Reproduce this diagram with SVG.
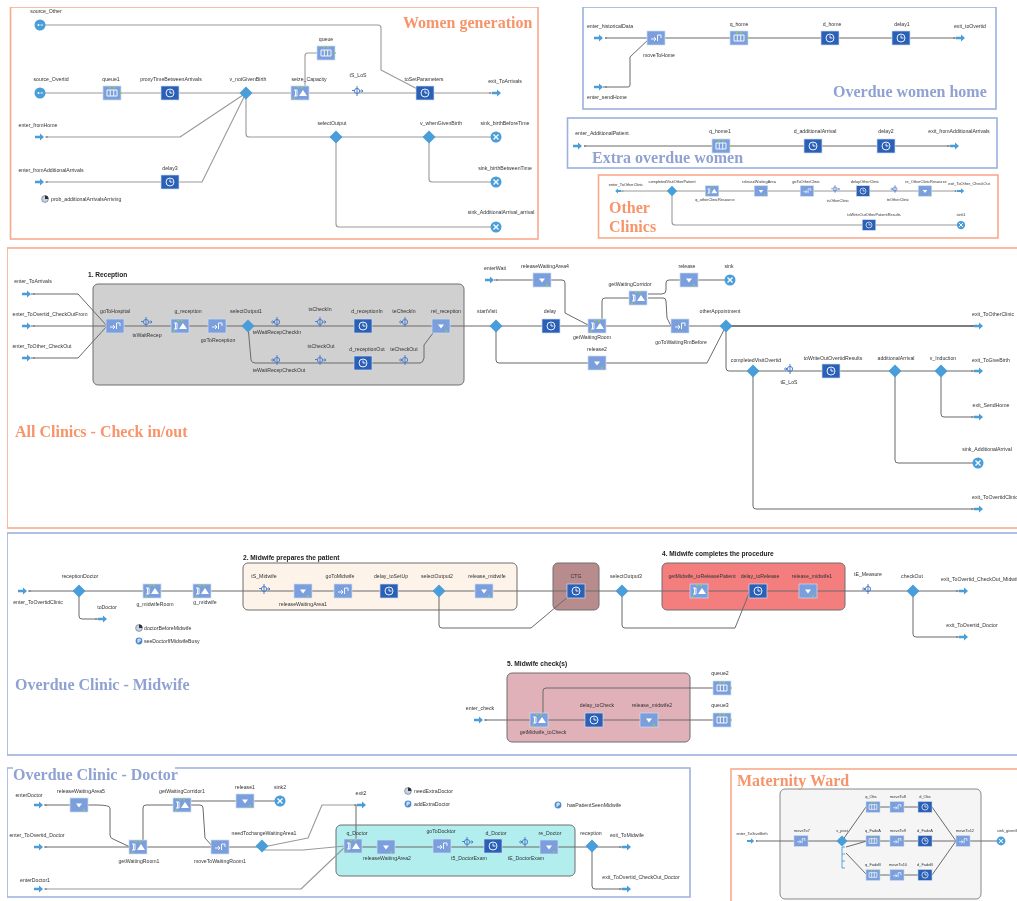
<svg xmlns="http://www.w3.org/2000/svg" width="1017" height="901" viewBox="0 0 1017 901">
<style>
text{font-family:"Liberation Sans",Arial,sans-serif;font-size:5.2px;fill:#333;text-anchor:middle}
.st text{font-size:3.9px}
.s{text-anchor:start}
.h{font-weight:bold;font-size:6.6px;fill:#222;text-anchor:start}
.ti{font-family:"Liberation Serif","Times New Roman",serif;font-weight:bold;font-size:16px;text-anchor:start}
.or{fill:#f7946a}.bl{fill:#8fa2d2}
.fo{fill:none;stroke:#f9a98c;stroke-width:1.6}
.fb{fill:none;stroke:#9db0de;stroke-width:1.6}
.box{stroke:#6f6f6f;stroke-width:1}
.c{fill:none;stroke:#6a6a6a;stroke-width:1;stroke-linejoin:round}
.cl{fill:none;stroke:#9a9a9a;stroke-width:1.1;stroke-linejoin:round}
.lb{fill:#7a9fdc;stroke:#cfdcf4;stroke-width:.7}
.db{fill:#2b60b6;stroke:#cfdcf4;stroke-width:.7}
.w{fill:#fff}
.wl{fill:none;stroke:#fff;stroke-width:.9}
.g{fill:#8fd13f}
.p{fill:#4a9dd8}
.tm{fill:none;stroke:#4f7fcb;stroke-width:1}
</style>
<defs>
<filter id="soft" x="0" y="0" width="100%" height="100%"><feGaussianBlur stdDeviation="0.35"/></filter>
<g id="s-q"><rect class="lb" x="-9" y="-7" width="18" height="14"/><path class="wl" d="M-5-3H5V3H-5ZM-1.700-3V3M1.700-3V3"/><circle class="g" cx="-2" cy="-5.500" r="1"/><circle class="g" cx="2" cy="-5.500" r="1"/><circle class="g" cx="9" cy="0" r="1"/></g>
<g id="s-d"><rect class="db" x="-9" y="-7" width="18" height="14"/><circle class="wl" r="4"/><path class="wl" d="M0-2.500V0H2.500"/></g>
<g id="s-z"><rect class="lb" x="-9" y="-7" width="18" height="14"/><path class="wl" d="M-6-3H-3V3H-6M-4.500-3V3"/><path class="w" d="M-1 3L3-3L7 3Z"/><circle class="g" cx="-2" cy="-5.500" r="1"/><circle class="g" cx="2" cy="-5.500" r="1"/><circle class="g" cx="-6" cy="5.500" r="1"/></g>
<g id="s-r"><rect class="lb" x="-9" y="-7" width="18" height="14"/><path class="w" d="M-3-1.500H3L0 2.500Z"/><circle class="g" cx="5" cy="5" r="1"/></g>
<g id="s-m"><rect class="lb" x="-9" y="-7" width="18" height="14"/><path class="wl" d="M-5 1H0M-2-1L0 1L-2 3M1.500-3V3M1.500-3H5V0"/></g>
<g id="s-t"><circle class="tm" r="2.600"/><path class="tm" d="M0-5V5M-5-0.500H-3M3 0H6M4.500-1.500L6 0L4.500 1.500"/></g>
<g id="s-u"><circle class="tm" r="2.600"/><path class="tm" d="M0-5V5M-6 0H-3M-4.500-1.500L-3 0L-4.500 1.500"/></g>
<polygon id="s-v" class="p" points="0,-6.500 6.500,0 0,6.500 -6.500,0"/>
<g id="s-e"><path class="p" d="M-5-1.300H0V-3.500L4 0L0 3.500V1.300H-5Z"/><circle cx="7" r=".8" fill="#666"/></g>
<g id="s-x"><path class="p" d="M-5-1.300H0V-3.500L4 0L0 3.500V1.300H-5Z"/><circle cx="-7" r=".8" fill="#666"/></g>
<g id="s-k"><circle class="p" r="5.500"/><path class="wl" style="stroke-width:1.300" d="M-2.500-2.500L2.500 2.500M2.500-2.500L-2.500 2.500"/></g>
<g id="s-o"><circle class="p" r="5.500"/><circle class="w" cx="-1.500" r="1"/><path class="wl" d="M.5 0H3"/></g>
<g id="s-a"><circle r="3.400" fill="#c7d3e4" stroke="#5d6b80" stroke-width=".6"/><path d="M0 0V-3.400A3.400 3.400 0 0 1 3.400 0Z" fill="#333"/></g>
<g id="s-b"><circle r="3.400" fill="#4a8bcf"/><path class="wl" d="M-1-1.800H1.200V0H-1M-1-1.800V2"/></g>
</defs>
<rect width="1017" height="901" fill="#fff"/>
<g filter="url(#soft)">
<g id="frames">
<rect class="fo" x="10.500" y="7" width="527.500" height="232"/>
<rect class="fb" x="583" y="7" width="413" height="102"/>
<rect class="fb" x="567.500" y="118" width="429.500" height="50"/>
<rect class="fo" x="598.500" y="175" width="399.500" height="63"/>
<rect class="fo" x="7" y="248" width="1030" height="280"/>
<rect class="fb" x="7" y="533" width="1030" height="222"/>
<path class="fb" d="M175 768H690V897H7V768H13"/>
<rect class="fo" x="731" y="769" width="300" height="150"/>
<rect class="box" x="93" y="284" width="371" height="101" rx="5" fill="#d0d0d0"/>
<rect class="box" x="243" y="563" width="274" height="47" rx="5" fill="#fdf3e9"/>
<rect class="box" x="553" y="563" width="46" height="47" rx="5" fill="#b88c8c"/>
<rect class="box" x="662" y="563" width="183" height="47" rx="5" fill="#f47d7e"/>
<rect class="box" x="507" y="673" width="183" height="69" rx="5" fill="#e0b1b9"/>
<rect class="box" x="336" y="825" width="239" height="51" rx="5" fill="#b2eeee"/>
<rect x="780" y="789" width="201" height="110" rx="5" fill="#f5f5f5" stroke="#888"/>
</g>
<g id="headings">
<text class="ti or" x="403" y="28">Women generation</text>
<text class="ti bl" x="833" y="97">Overdue women home</text>
<text class="ti bl" x="592" y="163">Extra overdue women</text>
<text class="ti or" x="609" y="213">Other</text>
<text class="ti or" x="609" y="232">Clinics</text>
<text class="ti or" x="15" y="437">All  Clinics  - Check in/out</text>
<text class="ti bl" x="15" y="690">Overdue Clinic  - Midwife</text>
<text class="ti bl" x="13" y="780">Overdue Clinic  - Doctor</text>
<text class="ti or" x="737" y="786">Maternity Ward</text>
<text class="h" x="88" y="277">1. Reception</text>
<text class="h" x="243" y="560">2. Midwife prepares the patient</text>
<text class="h" x="662" y="556">4. Midwife completes the procedure</text>
<text class="h" x="507" y="666">5. Midwife check(s)</text>
</g>
<g id="connectors">
<path class="cl" d="M45 25H378Q381 25 381 28V70L425 93"/>
<path class="cl" d="M45 93H497"/>
<path class="cl" d="M45 137H180L246 93"/>
<path class="cl" d="M45 182H170M170 182H202L246 93"/>
<path class="cl" d="M246 93V134Q246 137 249 137H496"/>
<path class="cl" d="M429 137V179Q429 182 432 182H496"/>
<path class="cl" d="M336 137V224Q336 227 339 227H496"/>
<path class="cl" d="M305 93V56Q305 53 308 53H318"/>
<path class="c" d="M605 38H961"/>
<path class="c" d="M603 87H628Q630 87 630 85V57L650 38"/>
<path class="c" d="M584 146H955"/>
<path class="cl" d="M622 191H961"/>
<path class="cl" d="M672 191V222Q672 225 675 225H961"/>
<path class="c" d="M31 294H78L107 326"/>
<path class="c" d="M31 358H78L107 326"/>
<path class="c" d="M31 326H979"/>
<path class="c" d="M248 326L251 360Q252 363 255 363H420Q423 363 424 358V345L433 333"/>
<path class="c" d="M494 280H562Q565 280 565 283V313L590 326"/>
<path class="c" d="M602 320V301Q602 298 605 298H638"/>
<path class="c" d="M648 294H662Q666 294 666 290V283Q666 280 669 280H730"/>
<path class="c" d="M648 298H663Q666 298 666 301L667 318L671 326"/>
<path class="c" d="M496 326V360Q496 363 499 363H707L726 326"/>
<path class="c" style="stroke-width:1.500" d="M726 326H979"/>
<path class="c" d="M726 326V368Q726 371 729 371H979"/>
<path class="c" d="M753 371V506Q753 509 756 509H979"/>
<path class="c" d="M895 371V460Q895 463 898 463H978"/>
<path class="c" d="M941 371V414Q941 417 944 417H979"/>
<path class="c" d="M28 591H264M264 591H964"/>
<path class="c" d="M79 591V616Q79 619 82 619H100"/>
<path class="c" d="M439 591V625Q439 628 442 628H531L569 596"/>
<path class="c" d="M622 591V625Q622 628 625 628H735L750 591"/>
<path class="c" d="M913 591V634Q913 637 916 637H960"/>
<path class="c" d="M484 720H722"/>
<path class="c" d="M543 720V691Q543 688 546 688H722"/>
<path class="c" d="M44 805H96Q110 805 110 808V835Q110 838 113 839L130 847"/>
<path class="c" d="M143 840V808Q143 805 146 805H182"/>
<path class="c" d="M190 801H280"/>
<path class="c" d="M190 805H200Q203 805 203 808L205 838L213 847"/>
<path class="c" d="M44 847H262M353 847H627"/>
<path class="cl" d="M268 846L308 838L322 805H362"/>
<path class="cl" d="M263 850H303L345 846"/>
<path class="c" d="M356 840V805"/>
<path class="cl" d="M44 889H301L345 847"/>
<path class="c" d="M592 846V886Q592 889 595 889H627"/>
<path class="c" d="M756 841H1001"/>
<path class="c" d="M842 841L866 807H932L956 841"/>
<path class="c" d="M846 847L867 841"/>
<path class="c" d="M846 853L867 875H932L956 841"/>
<path d="M842 847V868M842 847H845M842 854H845M842 861H845M842 868H845" fill="none" stroke="#4a9dd8" stroke-width=".9"/>
</g>

<g id="n-source_Other"><use href="#s-o" transform="translate(40,25)"/><text x="46" y="13">source_Other</text></g>
<g id="n-source_Overtid"><use href="#s-o" transform="translate(40,93)"/><text x="51" y="81">source_Overtid</text></g>
<g id="n-queue1"><use href="#s-q" transform="translate(112,93)"/><text x="111" y="81">queue1</text></g>
<g id="n-proxyTime"><use href="#s-d" transform="translate(170,93)"/><text x="171" y="81">proxyTimeBetweenArrivals</text></g>
<g id="n-v_notGivenBirth"><use href="#s-v" transform="translate(246,93)"/><text x="248" y="81">v_notGivenBirth</text></g>
<g id="n-seize_Capacity"><use href="#s-z" transform="translate(300,93)"/><text x="309" y="81">seize_Capacity</text></g>
<g id="n-queue"><use href="#s-q" transform="translate(326,53)"/><text x="326" y="41">queue</text></g>
<g id="n-tS_LoS"><use href="#s-t" transform="translate(357,91)"/><text x="358" y="77">tS_LoS</text></g>
<g id="n-toSetParameters"><use href="#s-d" transform="translate(425,93)"/><text x="424" y="81">toSetParameters</text></g>
<g id="n-exit_ToArrivals"><use href="#s-x" transform="translate(497,93)"/><text x="505" y="83">exit_ToArrivals</text></g>
<g id="n-enter_fromHome"><use href="#s-e" transform="translate(40,137)"/><text x="38" y="127">enter_fromHome</text></g>
<g id="n-enter_fromAdditionalArrivals"><use href="#s-e" transform="translate(40,182)"/><text x="51" y="172">enter_fromAdditionalArrivals</text></g>
<g id="n-delay3"><use href="#s-d" transform="translate(170,182)"/><text x="170" y="170">delay3</text></g>
<g id="n-prob"><use href="#s-a" transform="translate(45,199)"/><text class="s" x="51" y="201">prob_additionalArrivalsArriving</text></g>
<g id="n-selectOutput"><use href="#s-v" transform="translate(336,137)"/><text x="332" y="125">selectOutput</text></g>
<g id="n-v_whenGivenBirth"><use href="#s-v" transform="translate(429,137)"/><text x="441" y="125">v_whenGivenBirth</text></g>
<g id="n-sink_birthBeforeTime"><use href="#s-k" transform="translate(496,137)"/><text x="505" y="125">sink_birthBeforeTime</text></g>
<g id="n-sink_birthBetweenTime"><use href="#s-k" transform="translate(496,182)"/><text x="505" y="170">sink_birthBetweenTime</text></g>
<g id="n-sink_AdditionalArrival_arrival"><use href="#s-k" transform="translate(496,227)"/><text x="501" y="214">sink_AdditionalArrival_arrival</text></g>

<g id="n-enter_historicalData"><use href="#s-e" transform="translate(599,38)"/><text x="610" y="28">enter_historicalData</text></g>
<g id="n-moveToHome"><use href="#s-m" transform="translate(656,38)"/><text x="659" y="57">moveToHome</text></g>
<g id="n-enter_sendHome"><use href="#s-e" transform="translate(599,87)"/><text x="607" y="99">enter_sendHome</text></g>
<g id="n-q_home"><use href="#s-q" transform="translate(739,38)"/><text x="739" y="26">q_home</text></g>
<g id="n-d_home"><use href="#s-d" transform="translate(830,38)"/><text x="832" y="26">d_home</text></g>
<g id="n-delay1"><use href="#s-d" transform="translate(901,38)"/><text x="902" y="26">delay1</text></g>
<g id="n-exit_toOvertid"><use href="#s-x" transform="translate(961,38)"/><text x="970" y="28">exit_toOvertid</text></g>

<g id="n-enter_AdditionalPatient"><use href="#s-e" transform="translate(578,146)"/><text x="602" y="135">enter_AdditionalPatient</text></g>
<g id="n-q_home1"><use href="#s-q" transform="translate(721,146)"/><text x="720" y="133">q_home1</text></g>
<g id="n-d_additionalArrival"><use href="#s-d" transform="translate(813,146)"/><text x="815" y="133">d_additionalArrival</text></g>
<g id="n-delay2"><use href="#s-d" transform="translate(886,146)"/><text x="886" y="133">delay2</text></g>
<g id="n-exit_fromAdditionalArrivals"><use href="#s-x" transform="translate(955,146)"/><text x="959" y="133">exit_fromAdditionalArrivals</text></g>

<g class="st">
<g id="n-enter_ToOtherClinic"><use href="#s-x" transform="translate(618,191) scale(-.7,.7)"/><text x="626" y="186">enter_ToOtherClinic</text></g>
<g id="n-completedVisitOtherPatient"><use href="#s-v" transform="translate(672,191) scale(.8)"/><text x="672" y="183">completedVisitOtherPatient</text></g>
<g id="n-q_otherClinicResource"><use href="#s-z" transform="translate(712,191) scale(.75)"/><text x="715" y="201">q_otherClinicResource</text></g>
<g id="n-releaseWaitingArea"><use href="#s-r" transform="translate(761,191) scale(.75)"/><text x="759" y="183">releaseWaitingArea</text></g>
<g id="n-goToOtherClinic"><use href="#s-m" transform="translate(807,191) scale(.75)"/><text x="806" y="183">goToOtherClinic</text></g>
<g id="n-tsOtherClinic"><use href="#s-t" transform="translate(835,189) scale(.75)"/><text x="838" y="202">tsOtherClinic</text></g>
<g id="n-delayOtherClinic"><use href="#s-d" transform="translate(863,191) scale(.75)"/><text x="865" y="183">delayOtherClinic</text></g>
<g id="n-teOtherClinic"><use href="#s-u" transform="translate(895,189) scale(.75)"/><text x="898" y="201">teOtherClinic</text></g>
<g id="n-re_OtherClinicResource"><use href="#s-r" transform="translate(925,191) scale(.75)"/><text x="926" y="183">re_OtherClinicResource</text></g>
<g id="n-exit_ToOther_CheckOut"><use href="#s-x" transform="translate(961,191) scale(.8)"/><text x="969" y="185">exit_ToOther_CheckOut</text></g>
<g id="n-toWriteOutOtherPatientResults"><use href="#s-d" transform="translate(869,225) scale(.75)"/><text x="874" y="216">toWriteOutOtherPatientResults</text></g>
<g id="n-sink1"><use href="#s-k" transform="translate(961,225) scale(.75)"/><text x="961" y="216">sink1</text></g>
</g>

<g id="n-enter_ToArrivals"><use href="#s-e" transform="translate(27,294)"/><text x="33" y="283">enter_ToArrivals</text></g>
<g id="n-enter_ToOvertid_CheckOutFrom"><use href="#s-e" transform="translate(27,326)"/><text x="50" y="316">enter_ToOvertid_CheckOutFrom</text></g>
<g id="n-enter_ToOther_CheckOut"><use href="#s-e" transform="translate(27,358)"/><text x="42" y="348">enter_ToOther_CheckOut</text></g>
<g id="n-goToHospital"><use href="#s-m" transform="translate(115,326)"/><text x="115" y="313">goToHospital</text></g>
<g id="n-tsWaitRecep"><use href="#s-t" transform="translate(146,322)"/><text x="147" y="337">tsWaitRecep</text></g>
<g id="n-g_reception"><use href="#s-z" transform="translate(180,326)"/><text x="188" y="313">g_reception</text></g>
<g id="n-goToReception"><use href="#s-m" transform="translate(217,326)"/><text x="218" y="342">goToReception</text></g>
<g id="n-selectOutput1"><use href="#s-v" transform="translate(248,326)"/><text x="246" y="313">selectOutput1</text></g>
<g id="n-teWaitRecepCheckIn"><use href="#s-u" transform="translate(277,322)"/><text x="277" y="334">teWaitRecepCheckIn</text></g>
<g id="n-tsCheckIn"><use href="#s-t" transform="translate(320,322)"/><text x="320" y="311">tsCheckIn</text></g>
<g id="n-d_receptionIn"><use href="#s-d" transform="translate(363,326)"/><text x="367" y="313">d_receptionIn</text></g>
<g id="n-teCheckIn"><use href="#s-u" transform="translate(405,322)"/><text x="404" y="313">teCheckIn</text></g>
<g id="n-rel_reception"><use href="#s-r" transform="translate(441,326)"/><text x="446" y="313">rel_reception</text></g>
<g id="n-teWaitRecepCheckOut"><use href="#s-u" transform="translate(277,360)"/><text x="279" y="372">teWaitRecepCheckOut</text></g>
<g id="n-tsCheckOut"><use href="#s-t" transform="translate(320,360)"/><text x="321" y="348">tsCheckOut</text></g>
<g id="n-d_receptionOut"><use href="#s-d" transform="translate(363,363)"/><text x="367" y="351">d_receptionOut</text></g>
<g id="n-teCheckOut"><use href="#s-u" transform="translate(405,360)"/><text x="404" y="351">teCheckOut</text></g>
<g id="n-enterWait"><use href="#s-e" transform="translate(490,280)"/><text x="495" y="270">enterWait</text></g>
<g id="n-releaseWaitingArea4"><use href="#s-r" transform="translate(542,280)"/><text x="545" y="268">releaseWaitingArea4</text></g>
<g id="n-release"><use href="#s-r" transform="translate(689,280)"/><text x="687" y="268">release</text></g>
<g id="n-sink"><use href="#s-k" transform="translate(730,280)"/><text x="729" y="268">sink</text></g>
<g id="n-getWaitingCorridor"><use href="#s-z" transform="translate(638,298)"/><text x="630" y="286">getWaitingCorridor</text></g>
<g id="n-startVisit"><use href="#s-v" transform="translate(496,326)"/><text x="487" y="313">startVisit</text></g>
<g id="n-delay"><use href="#s-d" transform="translate(551,326)"/><text x="550" y="313">delay</text></g>
<g id="n-getWaitingRoom"><use href="#s-z" transform="translate(597,326)"/><text x="592" y="339">getWaitingRoom</text></g>
<g id="n-goToWaitingRmBefore"><use href="#s-m" transform="translate(680,326)"/><text x="681" y="344">goToWaitingRmBefore</text></g>
<g id="n-otherAppointment"><use href="#s-v" transform="translate(726,326)"/><text x="720" y="313">otherAppointment</text></g>
<g id="n-release2"><use href="#s-r" transform="translate(597,363)"/><text x="597" y="351">release2</text></g>
<g id="n-completedVisitOvertid"><use href="#s-v" transform="translate(753,371)"/><text x="756" y="362">completedVisitOvertid</text></g>
<g id="n-tE_LoS"><use href="#s-u" transform="translate(790,369)"/><text x="789" y="384">tE_LoS</text></g>
<g id="n-toWriteOutOvertidResults"><use href="#s-d" transform="translate(831,371)"/><text x="833" y="360">toWriteOutOvertidResults</text></g>
<g id="n-additionalArrival"><use href="#s-v" transform="translate(895,371)"/><text x="896" y="360">additionalArrival</text></g>
<g id="n-v_Induction"><use href="#s-v" transform="translate(941,371)"/><text x="943" y="360">v_Induction</text></g>
<g id="n-exit_ToOtherClinic"><use href="#s-x" transform="translate(979,326)"/><text class="s" x="972" y="316">exit_ToOtherClinic</text></g>
<g id="n-exit_ToGiveBirth"><use href="#s-x" transform="translate(979,371)"/><text x="991" y="362">exit_ToGiveBirth</text></g>
<g id="n-exit_SendHome"><use href="#s-x" transform="translate(979,417)"/><text x="991" y="407">exit_SendHome</text></g>
<g id="n-sink_AdditionalArrival"><use href="#s-k" transform="translate(978,463)"/><text x="987" y="451">sink_AdditionalArrival</text></g>
<g id="n-exit_ToOvertidClinic"><use href="#s-x" transform="translate(979,509)"/><text class="s" x="972" y="499">exit_ToOvertidClinic</text></g>

<g id="n-enter_ToOvertidClinic"><use href="#s-e" transform="translate(23,591)"/><text x="38" y="604">enter_ToOvertidClinic</text></g>
<g id="n-receptionDoctor"><use href="#s-v" transform="translate(79,591)"/><text x="80" y="578">receptionDoctor</text></g>
<g id="n-toDoctor"><use href="#s-x" transform="translate(103,619)"/><text x="107" y="609">toDoctor</text></g>
<g id="n-g_midwifeRoom"><use href="#s-z" transform="translate(152,591)"/><text x="155" y="606">g_midwifeRoom</text></g>
<g id="n-g_midwife"><use href="#s-z" transform="translate(202,591)"/><text x="205" y="604">g_midwife</text></g>
<g id="n-doctorBeforeMidwife"><use href="#s-a" transform="translate(139,628)"/><text class="s" x="144" y="630">doctorBeforeMidwife</text></g>
<g id="n-seeDoctorIfMidwifeBusy"><use href="#s-b" transform="translate(139,641)"/><text class="s" x="144" y="643">seeDoctorIfMidwifeBusy</text></g>
<g id="n-tS_Midwife"><use href="#s-t" transform="translate(264,589)"/><text x="264" y="578">tS_Midwife</text></g>
<g id="n-releaseWaitingArea1"><use href="#s-r" transform="translate(303,591)"/><text x="303" y="606">releaseWaitingArea1</text></g>
<g id="n-goToMidwife"><use href="#s-m" transform="translate(343,591)"/><text x="340" y="578">goToMidwife</text></g>
<g id="n-delay_toSetUp"><use href="#s-d" transform="translate(389,591)"/><text x="391" y="578">delay_toSetUp</text></g>
<g id="n-selectOutput2"><use href="#s-v" transform="translate(439,591)"/><text x="437" y="578">selectOutput2</text></g>
<g id="n-release_midwife"><use href="#s-r" transform="translate(484,591)"/><text x="487" y="578">release_midwife</text></g>
<g id="n-CTG"><use href="#s-d" transform="translate(576,591)"/><text x="576" y="578">CTG</text></g>
<g id="n-selectOutput3"><use href="#s-v" transform="translate(622,591)"/><text x="626" y="578">selectOutput3</text></g>
<g id="n-getMidwife_toReleasePatient"><use href="#s-z" transform="translate(699,591)"/><text x="702" y="578">getMidwife_toReleasePatient</text></g>
<g id="n-delay_toRelease"><use href="#s-d" transform="translate(758,591)"/><text x="760" y="578">delay_toRelease</text></g>
<g id="n-release_midwife1"><use href="#s-r" transform="translate(808,591)"/><text x="812" y="578">release_midwife1</text></g>
<g id="n-tE_Measure"><use href="#s-u" transform="translate(868,589)"/><text x="868" y="576">tE_Measure</text></g>
<g id="n-checkOut"><use href="#s-v" transform="translate(913,591)"/><text x="912" y="578">checkOut</text></g>
<g id="n-exit_ToOvertid_CheckOut_Midwife"><use href="#s-x" transform="translate(964,591)"/><text class="s" x="941" y="581">exit_ToOvertid_CheckOut_Midwife</text></g>
<g id="n-exit_ToOvertid_Doctor"><use href="#s-x" transform="translate(964,637)"/><text x="972" y="627">exit_ToOvertid_Doctor</text></g>
<g id="n-enter_check"><use href="#s-e" transform="translate(479,720)"/><text x="480" y="710">enter_check</text></g>
<g id="n-getMidwife_toCheck"><use href="#s-z" transform="translate(539,720)"/><text x="543" y="734">getMidwife_toCheck</text></g>
<g id="n-delay_toCheck"><use href="#s-d" transform="translate(594,720)"/><text x="597" y="707">delay_toCheck</text></g>
<g id="n-release_midwife2"><use href="#s-r" transform="translate(649,720)"/><text x="652" y="707">release_midwife2</text></g>
<g id="n-queue2"><use href="#s-q" transform="translate(722,688)"/><text x="720" y="675">queue2</text></g>
<g id="n-queue3"><use href="#s-q" transform="translate(722,720)"/><text x="720" y="707">queue3</text></g>

<g id="n-enterDoctor"><use href="#s-e" transform="translate(39,805)"/><text x="29" y="797">enterDoctor</text></g>
<g id="n-releaseWaitingArea5"><use href="#s-r" transform="translate(79,805)"/><text x="81" y="793">releaseWaitingArea5</text></g>
<g id="n-getWaitingCorridor1"><use href="#s-z" transform="translate(182,805)"/><text x="182" y="793">getWaitingCorridor1</text></g>
<g id="n-release1"><use href="#s-r" transform="translate(245,801)"/><text x="245" y="789">release1</text></g>
<g id="n-sink2"><use href="#s-k" transform="translate(280,801)"/><text x="280" y="789">sink2</text></g>
<g id="n-exit2"><use href="#s-x" transform="translate(362,805)"/><text x="361" y="795">exit2</text></g>
<g id="n-needExtraDoctor"><use href="#s-a" transform="translate(408,791)"/><text class="s" x="414" y="793">needExtraDoctor</text></g>
<g id="n-addExtraDoctor"><use href="#s-b" transform="translate(408,804)"/><text class="s" x="414" y="806">addExtraDoctor</text></g>
<g id="n-hasPatientSeenMidwife"><use href="#s-b" transform="translate(558,805)"/><text class="s" x="567" y="807">hasPatientSeenMidwife</text></g>
<g id="n-enter_ToOvertid_Doctor"><use href="#s-e" transform="translate(39,847)"/><text x="37" y="837">enter_ToOvertid_Doctor</text></g>
<g id="n-getWaitingRoom1"><use href="#s-z" transform="translate(138,847)"/><text x="139" y="863">getWaitingRoom1</text></g>
<g id="n-moveToWaitingRoom1"><use href="#s-m" transform="translate(220,847)"/><text x="220" y="863">moveToWaitingRoom1</text></g>
<g id="n-needTochangeWaitingArea1"><use href="#s-v" transform="translate(262,846)"/><text x="264" y="835">needTochangeWaitingArea1</text></g>
<g id="n-q_Doctor"><use href="#s-z" transform="translate(353,846)"/><text x="357" y="835">q_Doctor</text></g>
<g id="n-releaseWaitingArea2"><use href="#s-r" transform="translate(386,847)"/><text x="387" y="860">releaseWaitingArea2</text></g>
<g id="n-goToDocktor"><use href="#s-m" transform="translate(442,846)"/><text x="441" y="833">goToDocktor</text></g>
<g id="n-t5_DoctorExam"><use href="#s-t" transform="translate(467,842)"/><text x="469" y="860">t5_DoctorExam</text></g>
<g id="n-d_Doctor"><use href="#s-d" transform="translate(493,846)"/><text x="496" y="835">d_Doctor</text></g>
<g id="n-tE_DoctorExam"><use href="#s-u" transform="translate(525,842)"/><text x="526" y="860">tE_DoctorExam</text></g>
<g id="n-re_Doctor"><use href="#s-r" transform="translate(549,847)"/><text x="550" y="835">re_Doctor</text></g>
<g id="n-reception"><use href="#s-v" transform="translate(592,846)"/><text x="591" y="835">reception</text></g>
<g id="n-exit_ToMidwife"><use href="#s-x" transform="translate(627,847)"/><text x="627" y="837">exit_ToMidwife</text></g>
<g id="n-exit_ToOvertid_CheckOut_Doctor"><use href="#s-x" transform="translate(627,889)"/><text x="641" y="879">exit_ToOvertid_CheckOut_Doctor</text></g>
<g id="n-enterDoctor1"><use href="#s-e" transform="translate(39,889)"/><text x="35" y="882">enterDoctor1</text></g>

<g class="st">
<g id="n-enter_ToGiveBirth"><use href="#s-e" transform="translate(751,841) scale(.8)"/><text x="752" y="835">enter_ToGiveBirth</text></g>
<g id="n-moveTo7"><use href="#s-m" transform="translate(801,841) scale(.78)"/><text x="802" y="832">moveTo7</text></g>
<g id="n-v_post"><use href="#s-v" transform="translate(842,841) scale(.85)"/><text x="842" y="832">v_post</text></g>
<g id="n-q_Obs"><use href="#s-q" transform="translate(873,807) scale(.78)"/><text x="871" y="798">q_Obs</text></g>
<g id="n-moveTo8"><use href="#s-m" transform="translate(897,807) scale(.78)"/><text x="898" y="798">moveTo8</text></g>
<g id="n-d_Obs"><use href="#s-d" transform="translate(925,807) scale(.78)"/><text x="925" y="798">d_Obs</text></g>
<g id="n-q_FadeA"><use href="#s-q" transform="translate(873,841) scale(.78)"/><text x="873" y="832">q_FadeA</text></g>
<g id="n-moveTo9"><use href="#s-m" transform="translate(897,841) scale(.78)"/><text x="898" y="832">moveTo9</text></g>
<g id="n-d_FadeA"><use href="#s-d" transform="translate(925,841) scale(.78)"/><text x="925" y="832">d_FadeA</text></g>
<g id="n-q_FadeB"><use href="#s-q" transform="translate(873,875) scale(.78)"/><text x="873" y="866">q_FadeB</text></g>
<g id="n-moveTo10"><use href="#s-m" transform="translate(897,875) scale(.78)"/><text x="898" y="866">moveTo10</text></g>
<g id="n-d_FadeB"><use href="#s-d" transform="translate(925,875) scale(.78)"/><text x="925" y="866">d_FadeB</text></g>
<g id="n-moveTo12"><use href="#s-m" transform="translate(963,841) scale(.78)"/><text x="965" y="832">moveTo12</text></g>
<g id="n-sink_givenBirth"><use href="#s-k" transform="translate(1001,841) scale(.8)"/><text class="s" x="997" y="832">sink_givenBirth</text></g>
</g>
</g>
</svg>
